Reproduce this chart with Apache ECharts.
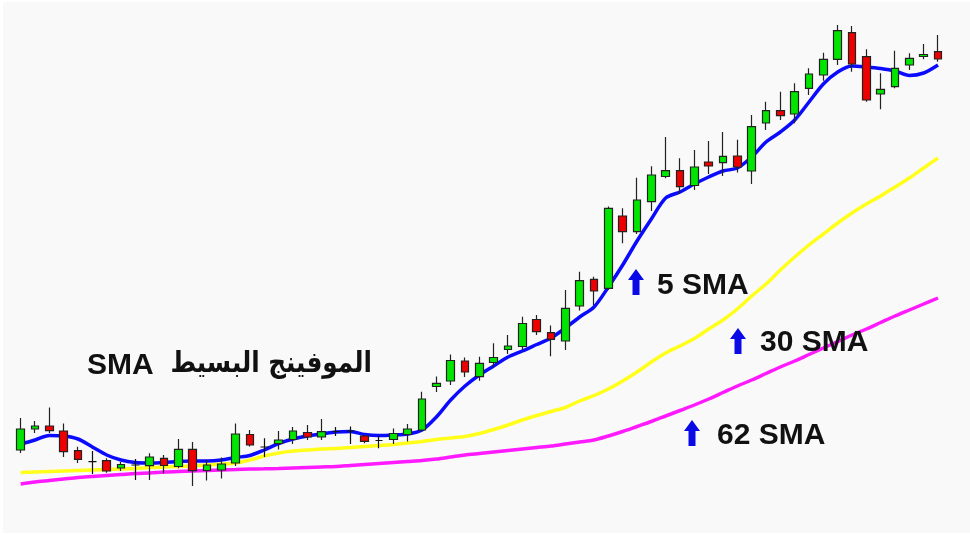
<!DOCTYPE html>
<html>
<head>
<meta charset="utf-8">
<script src="https://cdn.jsdelivr.net/npm/echarts@6/dist/echarts.min.js"></script>
<style>
  html, body { margin: 0; padding: 0; background: #ffffff; }
  #chart { position: absolute; left: 3px; top: 2px; width: 967px; height: 531px; }
</style>
</head>
<body>
<div id="chart"></div>
<script>
// Bars (no axis labels shown in the original)
const categories = ['1','2','3','4','5','6','7','8','9','10','11','12','13','14','15','16','17','18','19','20',
  '21','22','23','24','25','26','27','28','29','30','31','32','33','34','35','36','37','38','39','40',
  '41','42','43','44','45','46','47','48','49','50','51','52','53','54','55','56','57','58','59','60',
  '61','62','63','64','65'];

const opens  = [50,71,74,69,49.3,38.3,39.3,32,35,34.3,41.7,33.5,50.7,29.5,30,37,65.5,53,56.5,60.5,
  67.5,63,68.5,69,64,59.5,60.5,65.5,70,113.5,119,139,123.3,137.5,150.5,153.5,180.5,167.3,159,194,
  220.7,211.7,284,268.3,298.3,323.5,329.3,314.5,338,337.3,344,329,377,389.3,386,411.7,425,440.7,467.3,443.3,
  406,413.3,435,443.5,448.3];
const closes = [71,74,69.3,48.3,40.7,38.3,29,35.5,35,43,34.5,50.7,29.3,35,36,66,55,53,60,69,
  63,68.3,68.5,69,58.7,59.5,66.5,71,101,116.7,139.5,128,136.7,142.5,154,176.5,168.3,160.7,191.7,219.3,
  209,291.7,268.3,300,325,329.3,313.3,333,334,343.7,333,373.3,389.3,384.3,408.3,426,440.7,469.3,436,400,
  410.7,431.7,441.7,445.5,441];
const lows   = [47,67,67,43,37,26,27.3,29,20,20,26.5,31.7,14,19.5,21.5,34,53.5,43,50.5,56,
  60,60,64,56,56.7,51.7,56,58.5,68.5,108,115,123,119.3,132.7,146,150,165,143.7,150,189.5,
  195,210,256.7,266,289,321.7,306,310,326,324,327.5,316,370,380,376.7,405,419.3,435,428.3,398.3,
  390.7,411.7,430,440.7,438.3];
const highs  = [82,79,92.5,76.5,53.3,49,41.7,38,41,46.7,45,61,58,40,42.5,76.5,70,61.7,69,73,
  75,81,73,73.5,65,64,71.5,76,108.3,123.5,145.5,142.5,143.3,156.7,165,183.3,185,174.5,210,228.3,
  223.3,293.5,291.7,322.3,333.7,363,341.7,350,359,368,360.3,385,398.3,408.3,416.7,431.7,447.3,475,474,450.7,
  426.7,449.3,446.7,456,465];

// Moving averages as drawn in the picture
const sma5  = [56,60,64.5,64,61,53,45,40,37.5,37,37.5,38.5,39,39,40,42.5,44.5,50,56.5,61,
  64,66,68,68.5,65.5,64.5,65,66,70,83,100,114,125,134,143,149,155.5,162,172,183,
  193,213,235,259,281,302,308,316,323,329,332,343,358,368,380,398,416,428,434,433,
  431.5,429,424.5,427,435];
const sma30 = [27.5,28,28.5,29,29.5,30,30.5,31,31.5,32.5,33,33.5,34,35,36,37,40,44,47,49,
  50,51,51.5,52.5,53.5,54.5,55.5,57,58.5,60.5,62,63.5,66.5,70.5,75,80,84.5,88.5,92.5,99,
  104.5,111,119,128,138,147,154,161.5,171,180,191,204,216,230,243,255,266,277,287,296,
  304,313,322,332,342];
const sma62 = [16,18,19.5,21,22.5,23.5,24.5,25.5,26.5,27,28,28.5,29,29.5,30,30.5,31,31.2,31.5,32,
  32.5,33,33.5,34.5,35.5,36.5,37.5,38.5,39.5,41,43,45,46.5,48,49.5,51,52.5,54,56,58,
  60,64,68.5,73.5,78.5,84,89.5,95,101,107.5,114,120,126.5,133,139,145.5,152,158.5,165,171,
  177.5,184,190,196,202];

const labelSma5 = '5 SMA';
const labelSma30 = '30 SMA';
const labelSma62 = '62 SMA';
const titleLatin = 'SMA';
const titleArabic = 'الموفينج البسيط';

const candleData = categories.map((c, i) => [opens[i], closes[i], lows[i], highs[i]]);

const chart = echarts.init(document.getElementById('chart'), null, { renderer: 'canvas' });

const arrowPts = [[8,0],[16,11],[11.5,11],[11.5,26],[4.5,26],[4.5,11],[0,11]];
function arrow(x, y) {
  return { type: 'polygon', x: x, y: y, z: 100, shape: { points: arrowPts }, style: { fill: '#0a0ae6' } };
}
function label(text, x, y, align, font, sx) {
  return { type: 'text', x: x, y: y, z: 100, scaleX: sx || 1,
    style: { text: text, fill: '#111111', font: font, textAlign: align, textVerticalAlign: 'middle' } };
}
const latinFont = 'bold 30px "Liberation Sans", Arial, sans-serif';
const arabicFont = 'bold 29px "DejaVu Sans", sans-serif';

chart.setOption({
  backgroundColor: '#f9f9f9',
  animation: false,
  grid: { left: 10.5, right: 24.8, top: 8, bottom: 33 },
  xAxis: {
    type: 'category', data: categories, boundaryGap: true,
    axisLine: { show: false }, axisTick: { show: false }, axisLabel: { show: false }, splitLine: { show: false }
  },
  yAxis: {
    type: 'value', min: 0, max: 490, scale: false,
    axisLine: { show: false }, axisTick: { show: false }, axisLabel: { show: false }, splitLine: { show: false }
  },
  series: [
    { name: '62 SMA', type: 'line', data: sma62, smooth: 0.3, symbol: 'none', z: 1,
      lineStyle: { color: '#ff1aff', width: 3.5 } },
    { name: '30 SMA', type: 'line', data: sma30, smooth: 0.3, symbol: 'none', z: 2,
      lineStyle: { color: '#ffff1a', width: 3.5 } },
    { name: '5 SMA', type: 'line', data: sma5, smooth: 0.3, symbol: 'none', z: 3,
      lineStyle: { color: '#0a0aff', width: 3.5 } },
    { name: 'Price', type: 'candlestick', data: candleData, barWidth: 8, z: 5,
      itemStyle: {
        color: '#00e600', color0: '#ee0000',
        borderColor: '#222222', borderColor0: '#222222', borderColorDoji: '#111111',
        borderWidth: 1.2
      } }
  ],
  graphic: [
    arrow(625, 267),
    label(labelSma5, 654, 284, 'left', latinFont),
    arrow(727, 326),
    label(labelSma30, 757, 341, 'left', latinFont),
    arrow(681, 418),
    label(labelSma62, 714, 434, 'left', latinFont),
    label(titleLatin, 84, 364, 'left', latinFont),
    label(titleArabic, 369, 362, 'right', arabicFont, 0.85)
  ]
});
</script>
</body>
</html>
